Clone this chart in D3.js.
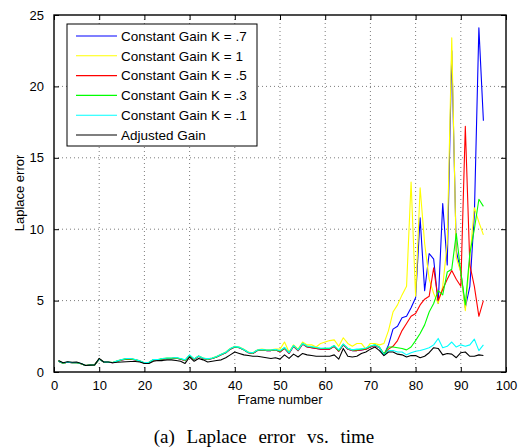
<!DOCTYPE html>
<html lang='en'>
    <head>
        <script src="https://d3js.org/d3.v7.min.js"></script>
    </head>
    <style>
        body{
            margin:0px;
            padding:0px;
            background-color:white;
        }
        svg{
            display:block;
        }
        .tick text, .lbl{
            font-family:'Liberation Sans', Arial, sans-serif;
            font-size:13px;
            fill:black;
        }
        .leg{
            font-family:'Liberation Sans', Arial, sans-serif;
            font-size:13.5px;
            fill:black;
        }
        .caption{
            font-family:'Liberation Serif', 'Times New Roman', serif;
            font-size:19px;
            word-spacing:7px;
            fill:black;
        }
        .grid line{
            stroke:#444;
            stroke-width:0.7;
            stroke-dasharray:1,3;
        }
        .series{
            fill:none;
            stroke-width:1.1;
            stroke-linejoin:round;
        }
    </style>
    <body>
        <svg id="chart" width="520" height="447"></svg>
        <script>
            // frame numbers 1..95
            const frames=d3.range(1,96);

            const seriesNames=['Constant Gain K = .7','Constant Gain K = 1','Constant Gain K = .5',
                               'Constant Gain K = .3','Constant Gain K = .1','Adjusted Gain'];
            const seriesColors=['#0000ff','#ffff00','#ff0000','#00ff00','#00ffff','#000000'];

            const gain07=[0.75,0.62,0.68,0.65,0.65,0.58,0.45,0.48,0.5,0.9,
                          0.7,0.68,0.65,0.75,0.85,0.9,0.9,0.85,0.75,0.62,
                          0.65,0.85,0.85,0.9,0.95,0.95,0.98,0.9,0.8,1.15,
                          0.88,1.1,0.95,0.88,0.95,1.05,1.2,1.35,1.6,1.75,
                          1.7,1.55,1.35,1.3,1.5,1.55,1.5,1.5,1.55,1.4,
                          1.65,1.3,1.8,1.5,1.95,1.75,1.7,1.65,1.6,1.6,
                          1.6,1.8,1.45,1.9,1.6,1.5,1.5,1.55,1.6,1.75,
                          1.85,1.7,1.2,1.9,3.0,3.2,3.8,3.9,4.5,5.2,
                          10.8,5.7,8.3,7.9,4.8,11.8,7.5,22.5,8.5,7.0,
                          4.5,6.0,11.0,24.1,17.6];
            const gain1=[0.78,0.62,0.68,0.66,0.66,0.58,0.46,0.5,0.52,0.92,
                         0.72,0.7,0.66,0.78,0.88,0.92,0.92,0.88,0.78,0.65,
                         0.68,0.88,0.88,0.95,0.98,0.98,1.0,0.92,0.82,1.18,
                         0.9,1.12,0.98,0.9,0.98,1.1,1.25,1.4,1.65,1.8,
                         1.75,1.6,1.4,1.35,1.55,1.6,1.55,1.55,1.6,1.6,
                         2.1,1.4,1.9,1.6,2.1,1.9,1.9,1.75,2.0,2.1,
                         2.2,2.25,1.8,2.4,2.0,1.8,2.0,2.0,1.6,2.0,
                         2.0,1.9,2.0,2.9,4.2,4.7,5.4,6.0,13.3,5.3,
                         12.9,9.0,6.5,5.5,4.8,6.0,9.0,23.4,8.0,7.0,
                         4.3,8.0,11.5,10.5,9.6];
            const gain05=[0.75,0.62,0.68,0.65,0.65,0.58,0.45,0.48,0.5,0.9,
                          0.7,0.68,0.65,0.75,0.85,0.9,0.9,0.85,0.75,0.62,
                          0.65,0.85,0.85,0.9,0.95,0.95,0.98,0.9,0.8,1.15,
                          0.88,1.1,0.95,0.88,0.95,1.05,1.2,1.35,1.6,1.75,
                          1.7,1.55,1.35,1.3,1.5,1.55,1.5,1.5,1.55,1.4,
                          1.65,1.3,1.8,1.5,1.95,1.75,1.7,1.65,1.6,1.6,
                          1.6,1.8,1.45,1.9,1.6,1.5,1.5,1.55,1.6,1.75,
                          1.85,1.7,1.25,1.6,1.8,2.2,2.9,3.4,3.9,4.1,
                          4.7,5.1,5.3,7.3,5.0,5.8,6.5,7.1,6.5,6.0,
                          17.2,7.5,6.0,3.9,5.0];
            const gain03=[0.76,0.62,0.68,0.65,0.65,0.58,0.45,0.48,0.5,0.9,
                          0.7,0.68,0.66,0.76,0.86,0.92,0.92,0.86,0.76,0.63,
                          0.66,0.86,0.86,0.92,0.96,0.96,1.0,0.92,0.82,1.16,
                          0.9,1.1,0.96,0.9,0.96,1.06,1.22,1.36,1.62,1.76,
                          1.72,1.56,1.36,1.32,1.52,1.56,1.52,1.52,1.56,1.45,
                          1.7,1.35,1.85,1.55,2.0,1.8,1.75,1.7,1.65,1.65,
                          1.65,1.85,1.5,1.95,1.65,1.55,1.55,1.6,1.65,1.8,
                          1.9,1.75,1.25,1.75,1.75,1.7,1.65,1.55,1.75,2.2,
                          2.7,3.3,4.2,4.8,5.7,5.4,7.0,7.2,9.7,7.0,
                          4.7,8.3,10.0,12.1,11.6];
            const gain01=[0.77,0.63,0.69,0.66,0.66,0.59,0.46,0.49,0.51,0.91,
                          0.71,0.69,0.67,0.78,0.88,0.95,0.95,0.88,0.78,0.65,
                          0.68,0.88,0.88,0.95,0.98,0.98,1.02,0.95,0.85,1.2,
                          0.92,1.12,0.98,0.92,0.98,1.08,1.24,1.38,1.64,1.78,
                          1.74,1.58,1.38,1.34,1.54,1.58,1.54,1.54,1.58,1.5,
                          1.72,1.35,1.85,1.55,2.0,1.82,1.78,1.72,1.66,1.68,
                          1.68,1.85,1.55,1.95,1.65,1.55,1.6,1.62,1.68,1.82,
                          1.9,1.72,1.2,1.5,1.5,1.4,1.4,1.2,1.35,1.45,
                          1.5,1.6,1.7,1.9,2.35,1.7,1.8,2.1,1.75,1.9,
                          1.8,1.9,2.3,1.5,1.9];
            const adjusted=[0.8,0.65,0.72,0.68,0.7,0.6,0.45,0.48,0.5,0.95,
                            0.7,0.7,0.65,0.68,0.7,0.72,0.74,0.74,0.7,0.6,
                            0.6,0.75,0.8,0.8,0.85,0.85,0.8,0.75,0.6,1.05,
                            0.75,0.95,0.85,0.7,0.75,0.8,0.85,1.0,1.2,1.4,
                            1.3,1.2,1.15,1.1,1.1,1.05,1.0,0.95,1.0,0.9,
                            1.2,0.95,1.25,1.05,1.3,1.2,1.15,1.1,1.1,1.1,
                            1.1,1.2,0.9,1.65,1.1,1.05,1.1,1.3,1.4,1.6,
                            1.75,1.5,1.15,1.4,1.4,1.25,1.2,1.05,1.15,1.15,
                            1.0,1.1,1.35,1.7,1.65,1.2,1.3,1.25,1.0,1.35,
                            1.4,1.1,1.1,1.2,1.15];
            const allSeries=[gain07,gain1,gain05,gain03,gain01,adjusted];

            const xTicks=[0,10,20,30,40,50,60,70,80,90,100];
            const yTicks=[0,5,10,15,20,25];

            const padLeft=54, padRight=506, padTop=15, padBottom=372;
            const tickLen=5;

            const xScale=d3.scaleLinear().domain([0,100]).range([padLeft,padRight]);
            const yScale=d3.scaleLinear().domain([0,25]).range([padBottom,padTop]);

            const svg=d3.select('#chart');

            // dotted grid
            const grid=svg.append('g').attr('class','grid');
            grid.selectAll('.gx')
                .data(xTicks.slice(1,-1))
                .enter()
                .append('line')
                .attr('x1',d=>xScale(d)).attr('x2',d=>xScale(d))
                .attr('y1',padTop).attr('y2',padBottom);
            grid.selectAll('.gy')
                .data(yTicks.slice(1,-1))
                .enter()
                .append('line')
                .attr('y1',d=>yScale(d)).attr('y2',d=>yScale(d))
                .attr('x1',padLeft).attr('x2',padRight);

            // axes, MATLAB style inward ticks on all 4 sides
            const xAxis=d3.axisBottom(xScale).tickValues(xTicks).tickSizeInner(-tickLen).tickSizeOuter(0).tickPadding(9);
            const yAxis=d3.axisLeft(yScale).tickValues(yTicks).tickSizeInner(-tickLen).tickSizeOuter(0).tickPadding(10);
            const xTop=d3.axisTop(xScale).tickValues(xTicks).tickSizeInner(-tickLen).tickSizeOuter(0).tickFormat('');
            const yRight=d3.axisRight(yScale).tickValues(yTicks).tickSizeInner(-tickLen).tickSizeOuter(0).tickFormat('');

            svg.append('g').attr('transform','translate(0,'+padBottom+')').call(xAxis);
            svg.append('g').attr('transform','translate('+padLeft+',0)').call(yAxis);
            svg.append('g').attr('transform','translate(0,'+padTop+')').call(xTop);
            svg.append('g').attr('transform','translate('+padRight+',0)').call(yRight);
            svg.selectAll('.domain').remove();
            svg.selectAll('.tick line').attr('stroke','black');

            // data lines
            const line=d3.line()
                         .x((d,i)=>xScale(frames[i]))
                         .y(d=>yScale(d));
            svg.selectAll('.series')
               .data(allSeries)
               .enter()
               .append('path')
               .attr('class','series')
               .attr('stroke',(d,i)=>seriesColors[i])
               .attr('d',line);

            // frame box
            svg.append('rect')
               .attr('x',padLeft).attr('y',padTop)
               .attr('width',padRight-padLeft).attr('height',padBottom-padTop)
               .attr('fill','none').attr('stroke','black').attr('stroke-width',1.4);

            // legend
            const legX=67, legY=24, legW=190, legH=122, rowH=19.8;
            const leg=svg.append('g');
            leg.append('rect')
               .attr('x',legX).attr('y',legY).attr('width',legW).attr('height',legH)
               .attr('fill','white').attr('stroke','black').attr('stroke-width',1);
            seriesNames.forEach((name,i)=>{
                const cy=legY+12+i*rowH;
                leg.append('line')
                   .attr('x1',legX+9).attr('x2',legX+50)
                   .attr('y1',cy).attr('y2',cy)
                   .attr('stroke',seriesColors[i]).attr('stroke-width',1.1);
                leg.append('text')
                   .attr('class','leg')
                   .attr('x',legX+54).attr('y',cy+4.8)
                   .text(name);
            });

            // axis labels
            svg.append('text')
               .attr('class','lbl')
               .attr('x',(padLeft+padRight)/2).attr('y',404)
               .attr('text-anchor','middle')
               .text('Frame number');
            svg.append('text')
               .attr('class','lbl')
               .attr('transform','translate(24,193) rotate(-90)')
               .attr('text-anchor','middle')
               .text('Laplace error');

            svg.append('text')
               .attr('class','caption')
               .attr('x',264).attr('y',443)
               .attr('text-anchor','middle')
               .text('(a) Laplace error vs. time');
        </script>
    </body>
</html>
